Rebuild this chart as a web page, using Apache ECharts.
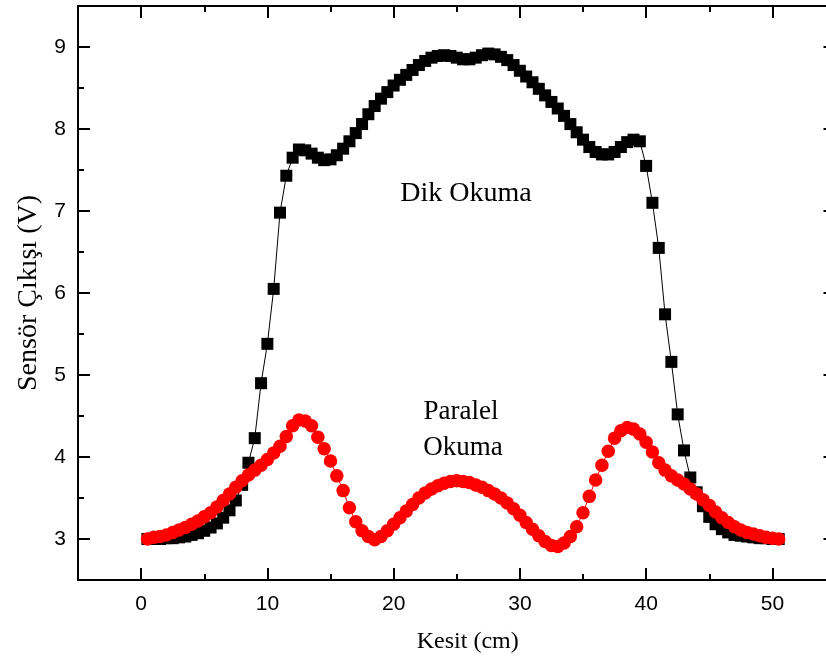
<!DOCTYPE html>
<html><head><meta charset="utf-8">
<script src="https://cdn.jsdelivr.net/npm/echarts@6/dist/echarts.min.js"></script>
<style>html,body{margin:0;padding:0;background:#fff}#c{width:826px;height:662px}</style>
</head><body><div id="c"></div>
<script>
const kesit = [0.5,1,1.5,2,2.5,3,3.5,4,4.5,5,
  5.5,6,6.5,7,7.5,8,8.5,9,9.5,10,
  10.5,11,11.5,12,12.5,13,13.5,14,14.5,15,
  15.5,16,16.5,17,17.5,18,18.5,19,19.5,20,
  20.5,21,21.5,22,22.5,23,23.5,24,24.5,25,
  25.5,26,26.5,27,27.5,28,28.5,29,29.5,30,
  30.5,31,31.5,32,32.5,33,33.5,34,34.5,35,
  35.5,36,36.5,37,37.5,38,38.5,39,39.5,40,
  40.5,41,41.5,42,42.5,43,43.5,44,44.5,45,
  45.5,46,46.5,47,47.5,48,48.5,49,49.5,50,
  50.5];
const dikOkuma = [3.00,3.00,3.00,3.01,3.01,3.02,3.03,3.05,3.07,3.10,
  3.14,3.19,3.26,3.35,3.47,3.66,3.93,4.23,4.90,5.38,
  6.05,6.98,7.43,7.65,7.75,7.74,7.70,7.65,7.62,7.63,
  7.68,7.76,7.85,7.95,8.06,8.18,8.28,8.37,8.45,8.53,
  8.60,8.66,8.72,8.78,8.83,8.87,8.89,8.90,8.89,8.87,
  8.85,8.85,8.87,8.90,8.92,8.91,8.88,8.84,8.78,8.71,
  8.64,8.57,8.49,8.41,8.33,8.25,8.16,8.06,7.96,7.87,
  7.78,7.72,7.69,7.69,7.72,7.78,7.84,7.87,7.85,7.55,
  7.10,6.55,5.74,5.16,4.52,4.08,3.75,3.57,3.40,3.27,
  3.18,3.12,3.08,3.05,3.04,3.03,3.02,3.01,3.01,3.00,
  3.00];
const paralelOkuma = [3.00,3.02,3.03,3.05,3.08,3.11,3.14,3.18,3.22,3.27,
  3.32,3.39,3.47,3.55,3.63,3.71,3.78,3.84,3.90,3.97,
  4.05,4.13,4.25,4.38,4.45,4.44,4.38,4.24,4.10,3.95,
  3.77,3.59,3.38,3.21,3.10,3.03,2.99,3.03,3.10,3.18,
  3.26,3.34,3.42,3.50,3.56,3.61,3.65,3.68,3.70,3.71,
  3.70,3.69,3.66,3.63,3.59,3.55,3.50,3.44,3.37,3.29,
  3.20,3.12,3.04,2.97,2.92,2.91,2.95,3.03,3.15,3.32,
  3.52,3.72,3.90,4.07,4.23,4.32,4.36,4.34,4.28,4.18,
  4.06,3.93,3.84,3.77,3.72,3.67,3.61,3.55,3.48,3.41,
  3.33,3.26,3.20,3.15,3.11,3.08,3.06,3.04,3.02,3.01,
  3.00];
const xTickLabels = [0,10,20,30,40,50];
const yTickLabels = [3,4,5,6,7,8,9];
const xName = 'Kesit (cm)';
const yName = 'Sensör Çıkışı (V)';
const dikLabel = 'Dik Okuma';
const paralelLabel = ['Paralel','Okuma'];

const serif = '"Liberation Serif","Times New Roman",serif';
const sans = '"Liberation Sans",Arial,sans-serif';
const XMIN=-5, XMAX=55, YMIN=2.5, YMAX=9.5;
const line = {show:true, onZero:false, lineStyle:{color:'#000', width:2}};

function xAx(pos, major, labels){
  const a = {type:'value', position:pos, min:XMIN, max:XMAX, splitLine:{show:false},
    axisLine: line,
    axisTick:{show:true, inside:true, length: major?12:6, lineStyle:{color:'#000', width:2}},
    axisLabel:{show:false}};
  if(!major){ a.interval = 5; }
  if(labels){
    a.axisLabel = {show:true, color:'#000', fontFamily:sans, fontSize:21, margin:14,
      showMinLabel:false, showMaxLabel:false,
      formatter: v => xTickLabels.indexOf(v) >= 0 ? String(v) : ''};
    a.name = xName; a.nameLocation='middle'; a.nameGap=50;
    a.nameTextStyle = {color:'#000', fontFamily:serif, fontSize:24, padding:[0,0,0,22]};
  }
  return a;
}
function yAx(pos, major, labels){
  const a = {type:'value', position:pos, min:YMIN, max:YMAX, splitLine:{show:false},
    axisLine: line,
    axisTick:{show:true, inside:true, length: major?12:6, lineStyle:{color:'#000', width:2}},
    axisLabel:{show:false}};
  if(!major){ a.interval = 0.5; }
  if(labels){
    a.axisLabel = {show:true, color:'#000', fontFamily:sans, fontSize:21, margin:12,
      showMinLabel:false, showMaxLabel:false,
      formatter: v => yTickLabels.indexOf(v) >= 0 ? String(v) : ''};
    a.name = yName; a.nameLocation='middle'; a.nameGap=35;
    a.nameTextStyle = {color:'#000', fontFamily:serif, fontSize:28};
  }
  return a;
}

const chart = echarts.init(document.getElementById('c'), null, {renderer:'canvas'});
chart.setOption({
  backgroundColor:'#fff',
  animation:false,
  grid:{left:78, top:6, width:757.5, height:574, containLabel:false, outerBoundsMode:'none'},
  xAxis:[xAx('bottom',true,true), xAx('bottom',false,false), xAx('top',true,false), xAx('top',false,false)],
  yAxis:[yAx('left',true,true), yAx('left',false,false), yAx('right',true,false), yAx('right',false,false)],
  series:[
    {type:'line', name:'Dik Okuma', xAxisIndex:0, yAxisIndex:0,
     data: kesit.map((x,i)=>[x, dikOkuma[i]]),
     symbol:'rect', symbolSize:12, showAllSymbol:true,
     itemStyle:{color:'#000'}, lineStyle:{color:'#000', width:1}, z:2},
    {type:'line', name:'Paralel Okuma', xAxisIndex:0, yAxisIndex:0,
     data: kesit.map((x,i)=>[x, paralelOkuma[i]]),
     symbol:'circle', symbolSize:13.5, showAllSymbol:true,
     itemStyle:{color:'#ff0000'}, lineStyle:{color:'#ff0000', width:1}, z:3}
  ],
  graphic:[
    {type:'text', style:{text:dikLabel, font:'28px '+serif, fill:'#000', textAlign:'center', textVerticalAlign:'middle'}, x:466, y:194},
    {type:'text', style:{text:paralelLabel[0], font:'27px '+serif, fill:'#000', textAlign:'center', textVerticalAlign:'middle'}, x:461, y:412},
    {type:'text', style:{text:paralelLabel[1], font:'27px '+serif, fill:'#000', textAlign:'center', textVerticalAlign:'middle'}, x:463, y:448}
  ]
});
</script></body></html>
